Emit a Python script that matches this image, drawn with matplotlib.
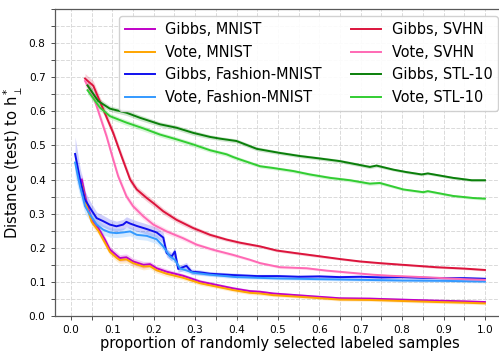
import matplotlib
matplotlib.use('Agg')
import matplotlib.pyplot as plt
import numpy as np
from matplotlib.ticker import MultipleLocator

# data
gibbs_mnist_x = [0.026, 0.038, 0.05, 0.066, 0.082, 0.094, 0.11, 0.118, 0.134, 0.15, 0.175, 0.191, 0.207, 0.231,
                 0.271, 0.312, 0.352, 0.392, 0.432, 0.457, 0.489, 0.569, 0.65, 0.722, 0.8, 0.883, 0.95, 1.0]
gibbs_mnist_y = [0.40, 0.331, 0.282, 0.258, 0.224, 0.195, 0.178, 0.170, 0.172, 0.160, 0.150, 0.152, 0.140, 0.130,
                 0.118, 0.101, 0.091, 0.081, 0.073, 0.071, 0.066, 0.059, 0.052, 0.051, 0.048, 0.045, 0.043, 0.041]
gibbs_mnist_err = [0.02, 0.015, 0.012, 0.01, 0.01, 0.01, 0.01, 0.01, 0.01, 0.01, 0.01, 0.008, 0.008, 0.008,
                   0.006, 0.006, 0.005, 0.005, 0.005, 0.005, 0.004, 0.004, 0.004, 0.004, 0.004, 0.004, 0.004, 0.004]

vote_mnist_x = gibbs_mnist_x
vote_mnist_y = [0.385, 0.322, 0.276, 0.25, 0.215, 0.188, 0.171, 0.164, 0.166, 0.155, 0.145, 0.146, 0.134, 0.124,
                0.112, 0.096, 0.086, 0.076, 0.068, 0.066, 0.061, 0.055, 0.048, 0.047, 0.044, 0.041, 0.039, 0.037]
vote_mnist_err = gibbs_mnist_err

gibbs_fashion_x = [0.01, 0.022, 0.034, 0.046, 0.062, 0.078, 0.094, 0.11, 0.126, 0.134, 0.143, 0.159, 0.183, 0.207,
                   0.223, 0.231, 0.243, 0.251, 0.259, 0.279, 0.291, 0.312, 0.336, 0.392, 0.45, 0.5, 0.55, 0.6, 0.65,
                   0.7, 0.75, 0.8, 0.85, 0.9, 0.95, 1.0]
gibbs_fashion_y = [0.475, 0.40, 0.341, 0.317, 0.287, 0.278, 0.268, 0.263, 0.268, 0.276, 0.271, 0.264, 0.255, 0.245,
                   0.23, 0.185, 0.174, 0.189, 0.138, 0.147, 0.13, 0.128, 0.124, 0.12, 0.117, 0.117, 0.115, 0.116,
                   0.114, 0.115, 0.113, 0.114, 0.112, 0.111, 0.111, 0.109]
gibbs_fashion_err = [0.05, 0.035, 0.025, 0.02, 0.018, 0.017, 0.016, 0.015, 0.015, 0.015, 0.015, 0.015, 0.015, 0.015,
                     0.015, 0.012, 0.012, 0.012, 0.01, 0.01, 0.008, 0.007, 0.006, 0.006, 0.005, 0.005, 0.005, 0.005,
                     0.005, 0.005, 0.005, 0.005, 0.005, 0.005, 0.005, 0.005]

vote_fashion_x = [0.01, 0.022, 0.034, 0.046, 0.062, 0.078, 0.094, 0.11, 0.126, 0.143, 0.159, 0.183, 0.207, 0.223,
                  0.239, 0.251, 0.263, 0.295, 0.336, 0.4, 0.5, 0.6, 0.7, 0.8, 0.9, 1.0]
vote_fashion_y = [0.45, 0.38, 0.322, 0.297, 0.268, 0.253, 0.245, 0.243, 0.245, 0.248, 0.238, 0.235, 0.225, 0.204,
                  0.175, 0.165, 0.14, 0.127, 0.121, 0.114, 0.11, 0.108, 0.106, 0.104, 0.103, 0.101]
vote_fashion_err = [0.04, 0.03, 0.022, 0.018, 0.016, 0.015, 0.014, 0.013, 0.013, 0.013, 0.013, 0.013, 0.013, 0.012,
                    0.01, 0.01, 0.008, 0.006, 0.005, 0.005, 0.004, 0.004, 0.004, 0.004, 0.004, 0.004]

gibbs_svhn_x = [0.034, 0.054, 0.078, 0.102, 0.122, 0.143, 0.159, 0.183, 0.199, 0.223, 0.255, 0.295, 0.336, 0.376,
                0.408, 0.457, 0.497, 0.545, 0.601, 0.65, 0.698, 0.746, 0.803, 0.883, 0.95, 1.0]
gibbs_svhn_y = [0.696, 0.675, 0.606, 0.537, 0.469, 0.40, 0.371, 0.346, 0.331, 0.307, 0.282, 0.258, 0.238, 0.224,
                0.215, 0.204, 0.192, 0.184, 0.175, 0.167, 0.16, 0.155, 0.15, 0.143, 0.139, 0.135]
gibbs_svhn_err = [0.015, 0.014, 0.013, 0.012, 0.012, 0.011, 0.01, 0.01, 0.01, 0.009, 0.008, 0.007, 0.006, 0.005,
                  0.005, 0.004, 0.004, 0.004, 0.004, 0.003, 0.003, 0.003, 0.003, 0.003, 0.003, 0.003]

vote_svhn_x = [0.034, 0.054, 0.07, 0.086, 0.102, 0.114, 0.134, 0.15, 0.175, 0.199, 0.231, 0.271, 0.304, 0.344,
               0.392, 0.432, 0.457, 0.505, 0.569, 0.618, 0.674, 0.73, 0.771, 0.85, 0.9, 0.95, 1.0]
vote_svhn_y = [0.689, 0.645, 0.586, 0.527, 0.459, 0.41, 0.351, 0.322, 0.292, 0.268, 0.248, 0.228, 0.209, 0.194,
               0.179, 0.165, 0.155, 0.143, 0.14, 0.133, 0.127, 0.121, 0.118, 0.114, 0.111, 0.108, 0.106]
vote_svhn_err = [0.015, 0.014, 0.013, 0.012, 0.012, 0.011, 0.01, 0.01, 0.01, 0.009, 0.008, 0.007, 0.006, 0.005,
                 0.005, 0.004, 0.004, 0.004, 0.004, 0.003, 0.003, 0.003, 0.003, 0.003, 0.003, 0.003, 0.003]

gibbs_stl_x = [0.04, 0.066, 0.094, 0.134, 0.167, 0.215, 0.255, 0.295, 0.336, 0.36, 0.40, 0.449, 0.505, 0.553,
               0.60, 0.65, 0.722, 0.738, 0.779, 0.81, 0.847, 0.862, 0.923, 0.968, 1.0]
gibbs_stl_y = [0.676, 0.630, 0.608, 0.596, 0.581, 0.562, 0.552, 0.537, 0.525, 0.52, 0.513, 0.49, 0.478, 0.469,
               0.462, 0.454, 0.437, 0.441, 0.429, 0.422, 0.415, 0.418, 0.405, 0.398, 0.398]
gibbs_stl_err = [0.012, 0.01, 0.008, 0.008, 0.008, 0.007, 0.007, 0.007, 0.006, 0.006, 0.006, 0.006, 0.005, 0.005,
                 0.005, 0.005, 0.005, 0.005, 0.004, 0.004, 0.004, 0.004, 0.004, 0.004, 0.004]

vote_stl_x = [0.04, 0.07, 0.094, 0.134, 0.175, 0.215, 0.255, 0.295, 0.336, 0.376, 0.392, 0.408, 0.457, 0.488,
              0.537, 0.577, 0.626, 0.674, 0.722, 0.746, 0.803, 0.851, 0.862, 0.923, 0.971, 1.0]
vote_stl_y = [0.662, 0.611, 0.586, 0.567, 0.55, 0.532, 0.518, 0.503, 0.486, 0.474, 0.466, 0.459, 0.439, 0.434,
              0.425, 0.415, 0.405, 0.398, 0.388, 0.39, 0.371, 0.363, 0.366, 0.352, 0.346, 0.344]
vote_stl_err = [0.012, 0.01, 0.008, 0.008, 0.008, 0.007, 0.007, 0.007, 0.006, 0.006, 0.006, 0.006, 0.005, 0.005,
                0.005, 0.005, 0.005, 0.005, 0.005, 0.005, 0.004, 0.004, 0.004, 0.004, 0.004, 0.004]

series = [
    ('Gibbs, MNIST', gibbs_mnist_x, gibbs_mnist_y, gibbs_mnist_err, '#c000c8'),
    ('Vote, MNIST', vote_mnist_x, vote_mnist_y, vote_mnist_err, '#ffa500'),
    ('Gibbs, Fashion-MNIST', gibbs_fashion_x, gibbs_fashion_y, gibbs_fashion_err, '#1010ee'),
    ('Vote, Fashion-MNIST', vote_fashion_x, vote_fashion_y, vote_fashion_err, '#3399ff'),
    ('Gibbs, SVHN', gibbs_svhn_x, gibbs_svhn_y, gibbs_svhn_err, '#dc143c'),
    ('Vote, SVHN', vote_svhn_x, vote_svhn_y, vote_svhn_err, '#ff69b4'),
    ('Gibbs, STL-10', gibbs_stl_x, gibbs_stl_y, gibbs_stl_err, '#0a7f0a'),
    ('Vote, STL-10', vote_stl_x, vote_stl_y, vote_stl_err, '#32cd32'),
]

fig = plt.figure(figsize=(4.99, 3.51), dpi=100)
# the axes runs a little past the right edge of the picture, as in the original crop
ax = fig.add_axes([0.1094, 0.0997, 0.9035, 0.8746])

for label, x, y, err, color in series:
    x = np.array(x)
    y = np.array(y)
    err = np.array(err)
    ax.fill_between(x, y - err, y + err, color=color, alpha=0.2, lw=0)
    ax.plot(x, y, color=color, lw=1.4, label=label)

ax.set_xlim(-0.0395, 1.0495)
ax.set_ylim(0, 0.9)
ax.xaxis.set_major_locator(MultipleLocator(0.1))
ax.xaxis.set_minor_locator(MultipleLocator(0.05))
ax.yaxis.set_major_locator(MultipleLocator(0.1))
ax.yaxis.set_minor_locator(MultipleLocator(0.05))
ax.set_xticks([0.0, 0.1, 0.2, 0.3, 0.4, 0.5, 0.6, 0.7, 0.8, 0.9, 1.0])
ax.set_yticks([0.0, 0.1, 0.2, 0.3, 0.4, 0.5, 0.6, 0.7, 0.8])
ax.grid(which='both', color='#dadada', lw=0.7, ls=(0, (4, 1.5)))
ax.set_axisbelow(True)
ax.tick_params(which='both', labelsize=7.6, length=3, width=0.7, color='0.3')
for s in ax.spines.values():
    s.set_color('0.35')
    s.set_linewidth(0.9)

ax.set_xlabel('proportion of randomly selected labeled samples', fontsize=10.5, labelpad=1)
ax.set_ylabel('Distance (test) to h$^*_\\perp$', fontsize=10.6, labelpad=3)

ax.legend(ncol=2, loc='upper right', fontsize=10.45, handlelength=2.1, handletextpad=0.7,
          columnspacing=2.0, labelspacing=0.52, borderaxespad=0.5, framealpha=0.9)

fig.savefig('out.png', dpi=100)
